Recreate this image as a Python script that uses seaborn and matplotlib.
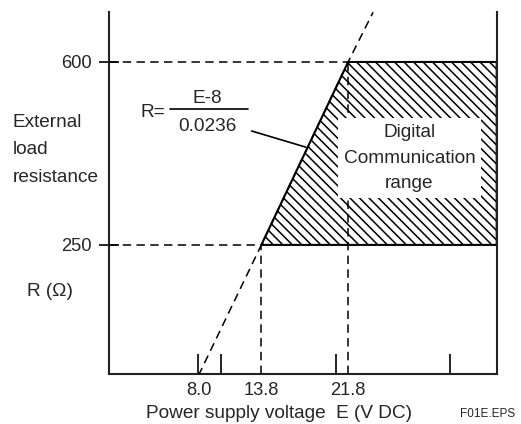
import matplotlib
matplotlib.use("Agg")
import matplotlib.pyplot as plt
import seaborn as sns

# Load line R = (E-8)/0.0236
load_E = [8.0, 13.8, 21.8, 24.1]
load_R = [0, 250, 600, 695]

# Digital communication range (hatched area)
range_E = [13.8, 21.8, 35.5]
range_low = [250, 250, 250]
range_high = [250, 600, 600]

# Marked corner points
mark_E = [13.8, 21.8]
mark_R = [250, 600]
mark_labels = ["13.8", "21.8"]

# Axis ticks
x_ticks = [8.0, 10.1, 20.7, 31.2]
x_tick_labels = ["8.0", "", "", ""]
y_ticks = [250, 600]
y_tick_labels = ["250", "600"]

x_lim = (-0.29, 35.5)
y_lim = (3, 695.6)

# hatch spacing is tied to dpi, so draw at 114 dpi and scale point sizes
DPI = 114
k = 100 / DPI

sns.set_style("white")
plt.rcParams["font.family"] = ["Liberation Sans", "DejaVu Sans"]
plt.rcParams["hatch.linewidth"] = 1.1 * k
plt.rcParams["hatch.color"] = "black"

fs = 13.7 * k
tfs = 13.2 * k
lw = 1.1 * k
dash = (0, (5.5, 3.5))

fig = plt.figure(figsize=(521 / DPI, 424 / DPI), dpi=DPI)
ax = fig.add_axes([0.2083, 0.1179, 0.7451, 0.8538])

# hatched range
ax.fill_between(range_E, range_low, range_high, facecolor="white",
                edgecolor="black", hatch="\\\\\\\\", lw=1.5 * k, zorder=2)

# load line (dashed)
sns.lineplot(x=load_E, y=load_R, ax=ax, color="black", lw=lw,
             linestyle=dash, zorder=3)

# guide lines to the axes
for e, r in zip(mark_E, mark_R):
    ax.plot([x_lim[0], e], [r, r], color="black", lw=lw, linestyle=dash, zorder=3)
    ax.plot([e, e], [y_lim[0], r], color="black", lw=lw, linestyle=dash, zorder=3)

ax.set_xlim(*x_lim)
ax.set_ylim(*y_lim)

# range label with white box
ax.text(27.45, 416, "Digital\nCommunication\nrange", ha="center", va="center",
        fontsize=fs, linespacing=1.65, zorder=5,
        bbox=dict(facecolor="white", edgecolor="none", boxstyle="square,pad=0.3"))

# formula with leader line
ax.text(4.95, 504, "R=", ha="right", va="center", fontsize=fs)
ax.text(8.8, 531, "E-8", ha="center", va="center", fontsize=fs)
ax.text(8.8, 477, "0.0236", ha="center", va="center", fontsize=fs)
ax.plot([5.37, 12.56], [510, 510], color="black", lw=1.2 * k)
ax.plot([12.9, 17.9], [468, 437], color="black", lw=1.2 * k)

# ticks
ax.set_xticks(x_ticks)
ax.set_xticklabels(x_tick_labels)
ax.set_xticks(mark_E, minor=True)
ax.set_xticklabels(mark_labels, minor=True)
ax.tick_params(axis="x", which="major", bottom=True, direction="in",
               length=14.4 * k, width=1.2 * k, pad=6 * k, labelsize=tfs,
               color="black")
ax.tick_params(axis="x", which="minor", bottom=True, length=0, pad=6 * k,
               labelsize=tfs)
ax.set_yticks(y_ticks)
ax.set_yticklabels(y_tick_labels)
ax.tick_params(axis="y", left=True, direction="inout", length=14 * k,
               width=1.2 * k, pad=5 * k, labelsize=tfs, color="black")

ax.spines["top"].set_visible(False)
for s in ["left", "right", "bottom"]:
    ax.spines[s].set_color("#222222")
    ax.spines[s].set_linewidth(1.5 * k)

# axis texts
ax.set_xlabel("Power supply voltage  E (V DC)", fontsize=fs)
ax.xaxis.set_label_coords(0.439, -0.085)
fig.text(13 / 521, 1 - 150 / 424, "External\nload\nresistance", ha="left",
         va="center", fontsize=fs, linespacing=1.8)
fig.text(50 / 521, 1 - 292 / 424, "R (\u03a9)", ha="center", va="center", fontsize=fs)
fig.text(488 / 521, 1 - 414 / 424, "F01E.EPS", ha="center", va="center",
         fontsize=8.5 * k)

fig.savefig("out.png", dpi=DPI)
